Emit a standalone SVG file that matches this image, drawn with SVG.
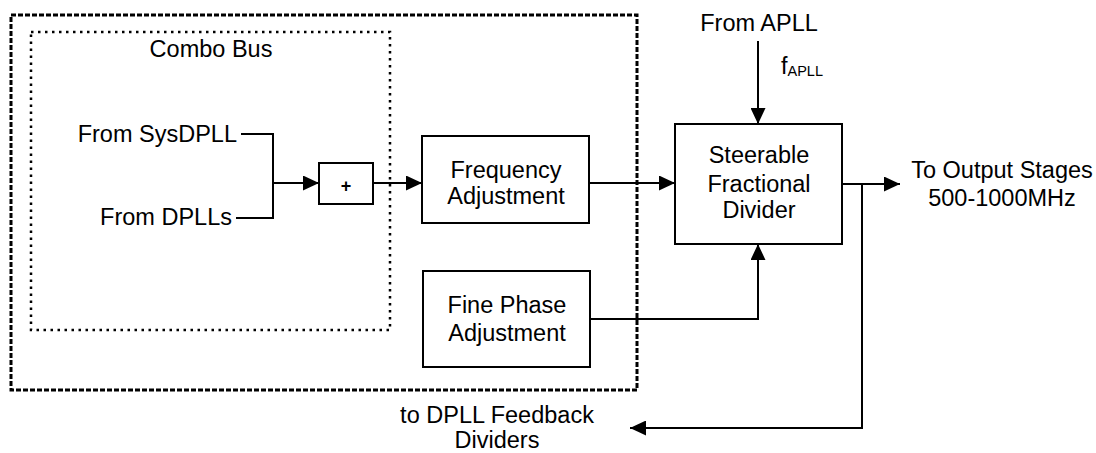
<svg xmlns="http://www.w3.org/2000/svg" width="1096" height="453" viewBox="0 0 1096 453">
<style>
text{font-family:"Liberation Sans",Arial,sans-serif;font-size:23.5px;fill:#000}
.m{text-anchor:middle}
.box{fill:#fff;stroke:#000;stroke-width:2}
.ln{fill:none;stroke:#000;stroke-width:2}
</style>
<defs>
<marker id="ah" viewBox="0 0 16 15" refX="16" refY="7.5" markerWidth="16" markerHeight="15" markerUnits="userSpaceOnUse" orient="auto">
<path d="M0,0 L16,7.5 L0,15 z" fill="#000"/>
</marker>
</defs>
<g id="outer-boundary">
<rect x="11" y="15" width="626" height="375" fill="none" stroke="#000" stroke-width="3" stroke-dasharray="5 2"/>
</g>
<g id="combo-bus">
<rect x="31" y="32" width="359" height="298" fill="none" stroke="#000" stroke-width="2.5" stroke-dasharray="2.5 4.5"/>
<text class="m" x="211" y="57">Combo Bus</text>
</g>
<g id="connectors">
<path class="ln" d="M241,134 H273 V218 H236"/>
<path class="ln" d="M273,183 H319" marker-end="url(#ah)"/>
<path class="ln" d="M373,183 H422" marker-end="url(#ah)"/>
<path class="ln" d="M589,183 H675" marker-end="url(#ah)"/>
<path class="ln" d="M758,41 V124" marker-end="url(#ah)"/>
<path class="ln" d="M842,184 H900" marker-end="url(#ah)"/>
<path class="ln" d="M862,184 V428 H630" marker-end="url(#ah)"/>
<path class="ln" d="M590,319 H758 V244" marker-end="url(#ah)"/>
</g>
<g id="from-sysdpll"><text x="237" y="142" text-anchor="end">From SysDPLL</text></g>
<g id="from-dplls"><text x="232" y="225" text-anchor="end">From DPLLs</text></g>
<g id="adder">
<rect class="box" x="319" y="163" width="54" height="41"/>
<text class="m" x="346" y="192" style="font-size:18px;font-weight:bold">+</text>
</g>
<g id="frequency-adjustment">
<rect class="box" x="422" y="136" width="167" height="87"/>
<text class="m" x="506" y="178">Frequency</text>
<text class="m" x="506" y="204">Adjustment</text>
</g>
<g id="fine-phase-adjustment">
<rect class="box" x="423" y="271" width="167" height="96"/>
<text class="m" x="507" y="313">Fine Phase</text>
<text class="m" x="507" y="341">Adjustment</text>
</g>
<g id="steerable-fractional-divider">
<rect class="box" x="675" y="124" width="167" height="120"/>
<text class="m" x="759" y="163">Steerable</text>
<text class="m" x="759" y="192">Fractional</text>
<text class="m" x="759" y="218">Divider</text>
</g>
<g id="from-apll">
<text class="m" x="759" y="31">From APLL</text>
<text x="781" y="74">f<tspan dy="2" style="font-size:14.5px">APLL</tspan></text>
</g>
<g id="to-output-stages">
<text class="m" x="1002" y="178">To Output Stages</text>
<text class="m" x="1002" y="206">500-1000MHz</text>
</g>
<g id="to-dpll-feedback">
<text class="m" x="497" y="423">to DPLL Feedback</text>
<text class="m" x="497" y="448">Dividers</text>
</g>
</svg>
